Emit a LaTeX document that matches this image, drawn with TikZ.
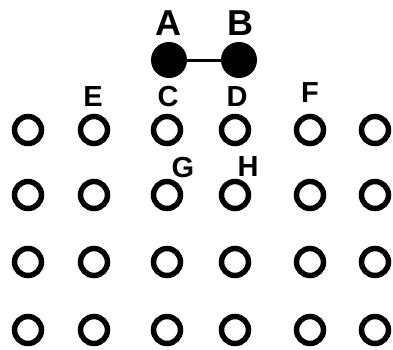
\documentclass[tikz,border=0pt]{standalone}
\usepackage{fontspec}
\setmainfont{Liberation Sans}
\begin{document}
\begin{tikzpicture}[x=1pt,y=-1pt,
  ring/.style={circle,draw,line width=5.5pt,minimum size=27pt,inner sep=0pt},
  atom/.style={circle,fill,minimum size=36pt,inner sep=0pt},
  biglab/.style={font=\fontsize{36}{36}\selectfont\bfseries},
  lab/.style={font=\fontsize{29}{29}\selectfont\bfseries}]
\useasboundingbox (0,0) rectangle (393,349);
% filled pair
\node[atom] (A) at (169,60) {};
\node[atom] (B) at (239,60) {};
\draw[line width=3pt] (A) -- (B);
\node[biglab] (lA) at (168,23) {A};
\node[biglab] (lB) at (240,23) {B};
% rings
\foreach \r/\yy in {1/130,2/195,3/262,4/330}{
  \foreach \c/\xx in {1/28,2/94,3/167,4/235,5/310,6/375}{
    \node[ring] (r\r\c) at (\xx,\yy) {};
  }
}
% labels
\node[lab] (lE) at (93,97) {E};
\node[lab] (lC) at (168,97) {C};
\node[lab] (lD) at (237,97) {D};
\node[lab] (lF) at (310,93) {F};
\node[lab] (lG) at (183,168) {G};
\node[lab] (lH) at (248,167) {H};
\end{tikzpicture}
\end{document}
